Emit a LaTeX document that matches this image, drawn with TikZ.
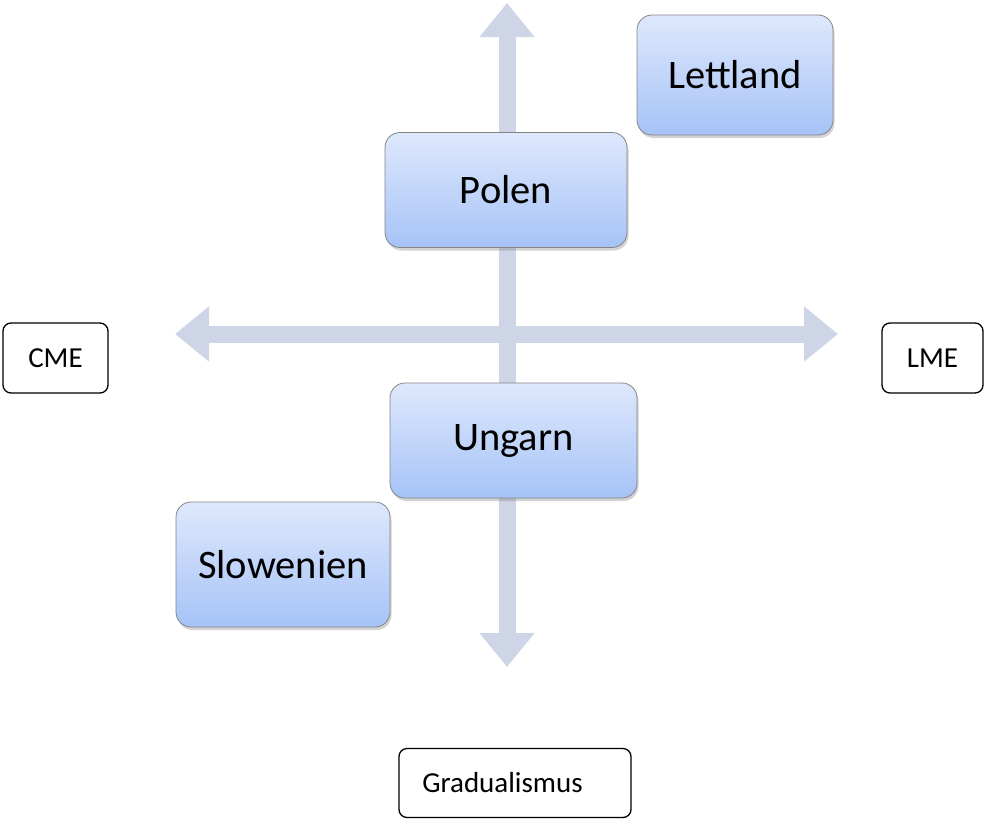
\documentclass[tikz,border=0pt]{standalone}
\usepackage{fontspec}
\setmainfont{Carlito}
\usetikzlibrary{arrows.meta,shadows}
\definecolor{axiscol}{HTML}{CDD5E6}
\definecolor{boxtop}{HTML}{DEE8FC}
\definecolor{boxbot}{HTML}{A6C3F7}
\definecolor{boxline}{HTML}{858585}
\tikzset{
  axis/.style={line width=17pt, color=axiscol,
    {Triangle[width=53pt,length=34pt]}-{Triangle[width=53pt,length=34pt]}},
  bigbox/.style={rectangle, rounded corners=15pt, draw=boxline, line width=0.8pt,
    top color=boxtop, bottom color=boxbot, inner sep=0pt, align=center,
    font=\fontsize{40.5}{46}\selectfont,
    drop shadow={opacity=0.35, shadow xshift=1.5pt, shadow yshift=-3pt}},
  labbox/.style={rectangle, rounded corners=8pt, draw=black, line width=1.3pt,
    fill=white, inner sep=0pt, align=center, font=\fontsize{29}{33}\selectfont}
}
\begin{document}
\begin{tikzpicture}[x=1pt,y=-1pt]
\useasboundingbox (0,0) rectangle (985,819);
% axes
\coordinate (vtop) at (507,3);
\coordinate (vbot) at (507,667);
\coordinate (hleft) at (175,334);
\coordinate (hright) at (838,334);
\draw[axis] (hleft) -- (hright);
\draw[axis] (vtop) -- (vbot);
% country boxes
\node[bigbox, minimum width=196pt, minimum height=120pt] (lett) at (735,75) {Lettland};
\node[bigbox, minimum width=242pt, minimum height=115pt] (pol) at (506,190) {Polen};
\node[bigbox, minimum width=247pt, minimum height=115pt] (ung) at (513.5,440.5) {Ungarn};
\node[bigbox, minimum width=214pt, minimum height=125pt] (slo) at (283,564.5) {Slowenien};
% labels
\node[labbox, minimum width=105pt, minimum height=70pt] (cme) at (55.5,358) {CME};
\node[labbox, minimum width=101pt, minimum height=70pt] (lme) at (932.5,358) {LME};
\node[labbox, minimum width=232pt, minimum height=69pt] (grad) at (515,783) {\hspace*{-25pt}Gradualismus};
\end{tikzpicture}
\end{document}
